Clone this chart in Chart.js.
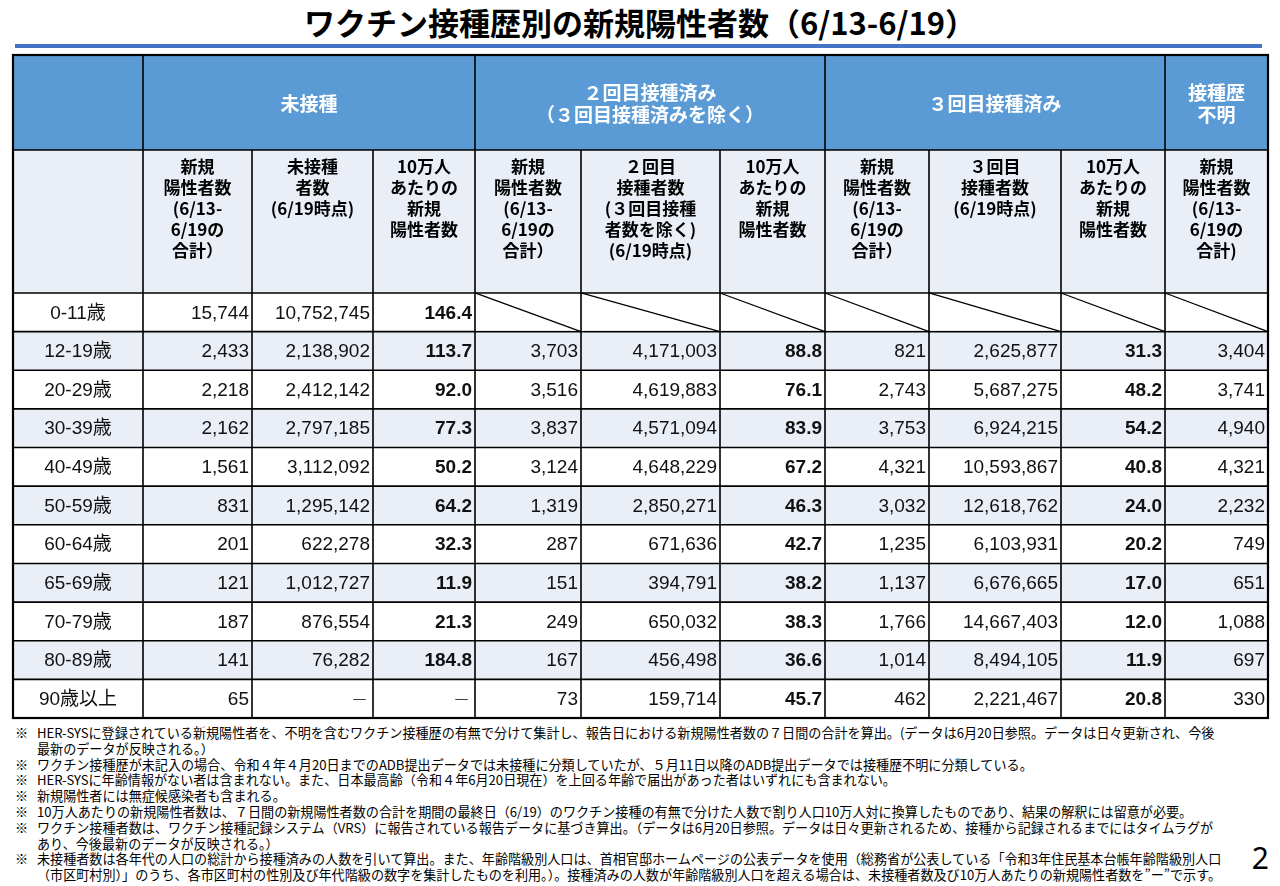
<!DOCTYPE html>
<html lang="ja">
<head>
<meta charset="utf-8">
<title>ワクチン接種歴別の新規陽性者数（6/13-6/19）</title>
<script src="https://cdn.jsdelivr.net/npm/chart.js@4.4.1/dist/chart.umd.min.js"></script>
<style>
  html, body { margin: 0; padding: 0; background: #fff; }
  body { width: 1280px; height: 886px; position: relative; overflow: hidden;
         font-family: "Noto Sans CJK JP", "Noto Sans", sans-serif; color: #000; }
  #title { position: absolute; left: 0; top: 0; width: 1280px; text-align: center;
           font-size: 31px; font-weight: bold; line-height: 44px; }
  #rule { position: absolute; left: 15px; top: 44px; width: 1247px; height: 4px; background: #4472c4; }
  #tableWrap { position: absolute; left: 10px; top: 52px; width: 1261px; height: 669px; }
  #notes { position: absolute; left: 15px; top: 725px; font-size: 13.1px; line-height: 15.8px; }
  .note { display: flex; white-space: nowrap; }
  .mark { width: 22px; flex: none; }
  .cont { padding-left: 22px; white-space: nowrap; }
  #page { position: absolute; right: 11px; top: 838px; font: 30px "Noto Sans", sans-serif; line-height: 40px; }
</style>
</head>
<body>
<div id="title">ワクチン接種歴別の新規陽性者数（6/13-6/19）</div>
<div id="rule"></div>
<div id="tableWrap"><canvas id="vaccineTable"></canvas></div>
<div id="notes">
  <div class="note"><span class="mark">※</span><span>HER-SYSに登録されている新規陽性者を、不明を含むワクチン接種歴の有無で分けて集計し、報告日における新規陽性者数の７日間の合計を算出。(データは6月20日参照。データは日々更新され、今後</span></div>
  <div class="cont">最新のデータが反映される。）</div>
  <div class="note"><span class="mark">※</span><span>ワクチン接種歴が未記入の場合、令和４年４月20日までのADB提出データでは未接種に分類していたが、５月11日以降のADB提出データでは接種歴不明に分類している。</span></div>
  <div class="note"><span class="mark">※</span><span>HER-SYSに年齢情報がない者は含まれない。また、日本最高齢（令和４年6月20日現在）を上回る年齢で届出があった者はいずれにも含まれない。</span></div>
  <div class="note"><span class="mark">※</span><span>新規陽性者には無症候感染者も含まれる。</span></div>
  <div class="note"><span class="mark">※</span><span>10万人あたりの新規陽性者数は、７日間の新規陽性者数の合計を期間の最終日（6/19）のワクチン接種の有無で分けた人数で割り人口10万人対に換算したものであり、結果の解釈には留意が必要。</span></div>
  <div class="note"><span class="mark">※</span><span>ワクチン接種者数は、ワクチン接種記録システム（VRS）に報告されている報告データに基づき算出。（データは6月20日参照。データは日々更新されるため、接種から記録されるまでにはタイムラグが</span></div>
  <div class="cont">あり、今後最新のデータが反映される。）</div>
  <div class="note"><span class="mark">※</span><span>未接種者数は各年代の人口の総計から接種済みの人数を引いて算出。また、年齢階級別人口は、首相官邸ホームページの公表データを使用（総務省が公表している「令和3年住民基本台帳年齢階級別人口</span></div>
  <div class="cont">（市区町村別）」のうち、各市区町村の性別及び年代階級の数字を集計したものを利用。）。接種済みの人数が年齢階級別人口を超える場合は、未接種者数及び10万人あたりの新規陽性者数を”ー”で示す。</div>
</div>
<div id="page">2</div>

<script>
// table values (null = not applicable, drawn as a diagonal cell)
const ageGroups = ['0-11歳', '12-19歳', '20-29歳', '30-39歳', '40-49歳', '50-59歳',
                   '60-64歳', '65-69歳', '70-79歳', '80-89歳', '90歳以上'];

const unvaxCases = [15744, 2433, 2218, 2162, 1561, 831, 201, 121, 187, 141, 65];
const unvaxPop = [10752745, 2138902, 2412142, 2797185, 3112092, 1295142, 622278, 1012727, 876554, 76282, '－'];
const unvaxRate = [146.4, 113.7, 92.0, 77.3, 50.2, 64.2, 32.3, 11.9, 21.3, 184.8, '－'];

const dose2Cases = [null, 3703, 3516, 3837, 3124, 1319, 287, 151, 249, 167, 73];
const dose2Pop = [null, 4171003, 4619883, 4571094, 4648229, 2850271, 671636, 394791, 650032, 456498, 159714];
const dose2Rate = [null, 88.8, 76.1, 83.9, 67.2, 46.3, 42.7, 38.2, 38.3, 36.6, 45.7];

const dose3Cases = [null, 821, 2743, 3753, 4321, 3032, 1235, 1137, 1766, 1014, 462];
const dose3Pop = [null, 2625877, 5687275, 6924215, 10593867, 12618762, 6103931, 6676665, 14667403, 8494105, 2221467];
const dose3Rate = [null, 31.3, 48.2, 54.2, 40.8, 24.0, 20.2, 17.0, 12.0, 11.9, 20.8];

const unknownCases = [null, 3404, 3741, 4940, 4321, 2232, 749, 651, 1088, 697, 330];

// header texts
const groupHeaders = [
    { span: 1, lines: [] },
    { span: 3, lines: ['未接種'] },
    { span: 3, lines: ['２回目接種済み', '（３回目接種済みを除く）'] },
    { span: 3, lines: ['３回目接種済み'] },
    { span: 1, lines: ['接種歴', '不明'] },
];
const casesHeader = ['新規', '陽性者数', '(6/13-', '6/19の', '合計）'];
const rateHeader = ['10万人', 'あたりの', '新規', '陽性者数'];
const subHeaders = [
    [],
    casesHeader, ['未接種', '者数', '(6/19時点)'], rateHeader,
    casesHeader, ['２回目', '接種者数', '(３回目接種', '者数を除く)', '(6/19時点)'], rateHeader,
    casesHeader, ['３回目', '接種者数', '(6/19時点)'], rateHeader,
    ['新規', '陽性者数', '(6/13-', '6/19の', '合計)'],
];

const valueColumns = [
    { label: '未接種 新規陽性者数', values: unvaxCases },
    { label: '未接種者数', values: unvaxPop },
    { label: '未接種 10万人あたり', values: unvaxRate, decimals: 1 },
    { label: '2回目 新規陽性者数', values: dose2Cases },
    { label: '2回目接種者数', values: dose2Pop },
    { label: '2回目 10万人あたり', values: dose2Rate, decimals: 1 },
    { label: '3回目 新規陽性者数', values: dose3Cases },
    { label: '3回目接種者数', values: dose3Pop },
    { label: '3回目 10万人あたり', values: dose3Rate, decimals: 1 },
    { label: '接種歴不明 新規陽性者数', values: unknownCases },
];

// layout (table units, mapped by the chart scales)
const colWidths = [130, 109, 121, 102, 106, 139, 105, 104, 132, 104, 103];
const headRowHeights = [95, 143];
const dataRowHeight = 38.64;
const cellPad = 3;

const headBlue = '#5b9bd5';
const paleBlue = '#e9eef7';
const numFont = '"Liberation Sans", Arial, "Noto Sans CJK JP", sans-serif';
const cjkFont = '"Noto Sans CJK JP", sans-serif';

const sumTo = (arr, n) => arr.slice(0, n).reduce((a, b) => a + b, 0);
const rowHeights = headRowHeights.concat(ageGroups.map(() => dataRowHeight));
const firstDataRow = headRowHeights.length;
const tableW = sumTo(colWidths, colWidths.length);
const tableH = sumTo(rowHeights, rowHeights.length);
const colEdge = i => sumTo(colWidths, i);
const rowEdge = j => sumTo(rowHeights, j);
const rowMid = r => rowEdge(firstDataRow + r) + dataRowHeight / 2;

function formatValue(v, decimals) {
    if (typeof v === 'string') return v;
    if (decimals) return v.toFixed(decimals);
    return v.toLocaleString('en-US');
}

// one dataset per column, each point sits at the text anchor of its cell
const datasets = [{
    label: '年代',
    values: ageGroups,
    align: 'center',
    data: ageGroups.map((g, r) => ({ x: colWidths[0] / 2, y: rowMid(r) })),
}];
valueColumns.forEach((col, k) => {
    datasets.push({
        label: col.label,
        values: col.values,
        decimals: col.decimals,
        align: 'right',
        data: col.values.map((v, r) => ({ x: colEdge(k + 2) - cellPad, y: rowMid(r) })),
    });
});

const tablePlugin = {
    id: 'tableCells',
    beforeDatasetsDraw(chart) {
        const { ctx } = chart;
        const px = v => chart.scales.x.getPixelForValue(v);
        const py = v => chart.scales.y.getPixelForValue(v);
        const fillCell = (x0, y0, x1, y1, color) => {
            ctx.fillStyle = color;
            ctx.fillRect(px(x0), py(y0), px(x1) - px(x0), py(y1) - py(y0));
        };
        ctx.save();

        // backgrounds
        fillCell(0, rowEdge(0), tableW, rowEdge(1), headBlue);
        fillCell(0, rowEdge(1), tableW, rowEdge(2), paleBlue);
        ageGroups.forEach((g, r) => {
            fillCell(0, rowEdge(firstDataRow + r), tableW, rowEdge(firstDataRow + r + 1),
                r % 2 === 1 ? paleBlue : '#ffffff');
        });

        // grid
        ctx.strokeStyle = '#000';
        ctx.lineWidth = 1.6;
        ctx.beginPath();
        for (let j = 1; j < rowHeights.length; j++) {
            ctx.moveTo(px(0), py(rowEdge(j)));
            ctx.lineTo(px(tableW), py(rowEdge(j)));
        }
        // group borders through the whole table
        let c = 0;
        groupHeaders.forEach(gh => {
            c += gh.span;
            if (c < colWidths.length) {
                ctx.moveTo(px(colEdge(c)), py(0));
                ctx.lineTo(px(colEdge(c)), py(tableH));
            }
        });
        // column borders below the group row
        for (let i = 1; i < colWidths.length; i++) {
            ctx.moveTo(px(colEdge(i)), py(rowEdge(1)));
            ctx.lineTo(px(colEdge(i)), py(tableH));
        }
        ctx.stroke();

        // not-applicable cells: white with a diagonal
        valueColumns.forEach((col, k) => {
            col.values.forEach((v, r) => {
                if (v !== null) return;
                const x0 = colEdge(k + 1), x1 = colEdge(k + 2);
                const y0 = rowEdge(firstDataRow + r), y1 = rowEdge(firstDataRow + r + 1);
                ctx.fillStyle = '#fff';
                ctx.fillRect(px(x0) + 1, py(y0) + 1, px(x1) - px(x0) - 2, py(y1) - py(y0) - 2);
                ctx.lineWidth = 1.3;
                ctx.beginPath();
                ctx.moveTo(px(x0), py(y0));
                ctx.lineTo(px(x1), py(y1));
                ctx.stroke();
            });
        });

        ctx.lineWidth = 2.2;
        ctx.strokeRect(px(0), py(0), px(tableW) - px(0), py(tableH) - py(0));
        ctx.restore();
    },
    afterDatasetsDraw(chart) {
        const { ctx } = chart;
        const px = v => chart.scales.x.getPixelForValue(v);
        const py = v => chart.scales.y.getPixelForValue(v);
        ctx.save();
        ctx.textBaseline = 'middle';
        ctx.textAlign = 'center';

        // group header row
        ctx.fillStyle = '#fff';
        ctx.font = 'bold 19px ' + cjkFont;
        let c = 0;
        groupHeaders.forEach(gh => {
            const cx = (colEdge(c) + colEdge(c + gh.span)) / 2;
            const cy = (rowEdge(0) + rowEdge(1)) / 2 + 1;
            const lh = 22;
            gh.lines.forEach((line, i) => {
                ctx.fillText(line, px(cx), py(cy) + (i - (gh.lines.length - 1) / 2) * lh);
            });
            c += gh.span;
        });

        // column header row
        ctx.fillStyle = '#000';
        ctx.font = 'bold 17px ' + cjkFont;
        subHeaders.forEach((lines, i) => {
            const cx = (colEdge(i) + colEdge(i + 1)) / 2;
            lines.forEach((line, n) => {
                ctx.fillText(line, px(cx), py(rowEdge(1)) + 17 + n * 21);
            });
        });

        // cell values
        chart.data.datasets.forEach((ds, d) => {
            const meta = chart.getDatasetMeta(d);
            ctx.textAlign = ds.align;
            meta.data.forEach((pt, r) => {
                const v = ds.values[r];
                if (v === null) return;
                const isDash = typeof v === 'string' && d > 0;
                ctx.font = isDash ? '300 17px ' + cjkFont
                    : (ds.decimals ? 'bold ' : '') + '19px ' + numFont;
                ctx.fillStyle = '#111';
                ctx.fillText(formatValue(v, ds.decimals), pt.x - (isDash ? 2 : 0), pt.y + 1);
            });
        });
        ctx.restore();
    },
};

new Chart(document.getElementById('vaccineTable'), {
    type: 'scatter',
    data: { datasets },
    options: {
        responsive: true,
        maintainAspectRatio: false,
        animation: false,
        events: [],
        layout: { padding: 3 },
        elements: { point: { radius: 0, hoverRadius: 0 } },
        plugins: {
            legend: { display: false },
            tooltip: { enabled: false },
        },
        scales: {
            x: { type: 'linear', min: 0, max: tableW, display: false },
            y: { type: 'linear', min: 0, max: tableH, reverse: true, display: false },
        },
    },
    plugins: [tablePlugin],
});
</script>
</body>
</html>
